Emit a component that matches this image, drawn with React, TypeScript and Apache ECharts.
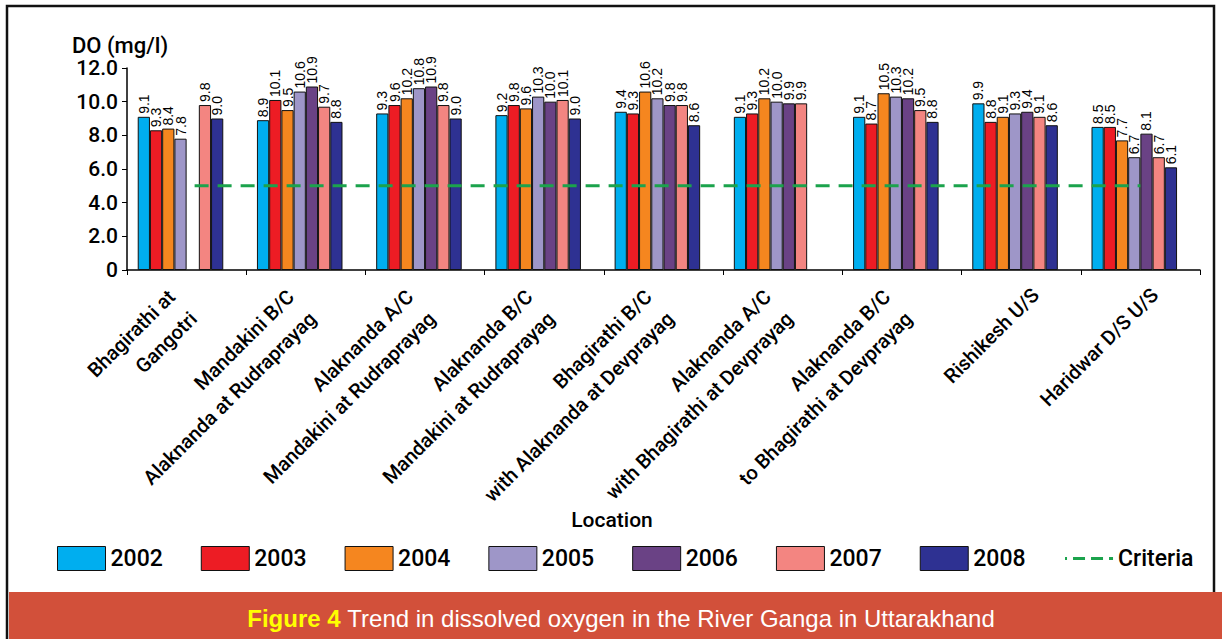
import React, { useEffect, useRef } from "react";
import * as echarts from "echarts";

const categories = [
  "Bhagirathi at\nGangotri",
  "Mandakini B/C\nAlaknanda at Rudraprayag",
  "Alaknanda A/C\nMandakini at Rudraprayag",
  "Alaknanda B/C\nMandakini at Rudraprayag",
  "Bhagirathi B/C\nwith Alaknanda at Devprayag",
  "Alaknanda A/C\nwith Bhagirathi at Devprayag",
  "Alaknanda B/C\nto Bhagirathi at Devprayag",
  "Rishikesh U/S",
  "Haridwar D/S U/S",
];

const years = ["2002", "2003", "2004", "2005", "2006", "2007", "2008"];

const v2002 = [9.1, 8.9, 9.3, 9.2, 9.4, 9.1, 9.1, 9.9, 8.5];
const v2003 = [8.3, 10.1, 9.8, 9.8, 9.3, 9.3, 8.7, 8.8, 8.5];
const v2004 = [8.4, 9.5, 10.2, 9.6, 10.6, 10.2, 10.5, 9.1, 7.7];
const v2005 = [7.8, 10.6, 10.8, 10.3, 10.2, 10.0, 10.3, 9.3, 6.7];
const v2006 = [null, 10.9, 10.9, 10.0, 9.8, 9.9, 10.2, 9.4, 8.1];
const v2007 = [9.8, 9.7, 9.8, 10.1, 9.8, 9.9, 9.5, 9.1, 6.7];
const v2008 = [9.0, 8.8, 9.0, 9.0, 8.6, null, 8.8, 8.6, 6.1];
const criteria = [5, 5, 5, 5, 5, 5, 5, 5, 5];

// printed labels that differ from the drawn bar heights in the original
const printedLabels2003 = ["9.3", null, "9.6", null, null, null, null, null, null];

const yTicks = [0, 2, 4, 6, 8, 10, 12];

const colors = ["#00aeef", "#ed1c24", "#f5861f", "#9e96c8", "#6a4285", "#f38581", "#2e3192"];
const criteriaColor = "#1ba34c";

const seriesValues = [v2002, v2003, v2004, v2005, v2006, v2007, v2008];

const catFont = {
  fontFamily: "Roboto, sans-serif",
  fontWeight: 500,
  fontSize: 20,
  lineHeight: 31,
  color: "#000",
};

export default function App() {
  const ref = useRef<HTMLDivElement>(null);
  useEffect(() => {
    if (!ref.current) return;
    const chart = echarts.init(ref.current, null, { renderer: "svg" });
    const barSeries: any[] = seriesValues.map((vals, si) => ({
      name: years[si],
      type: "bar",
      barGap: "0%",
      barCategoryGap: "18%",
      itemStyle: { color: colors[si], borderColor: "#111", borderWidth: 1 },
      label: {
        show: true,
        position: "top",
        rotate: 90,
        align: "left",
        verticalAlign: "middle",
        distance: 3,
        fontFamily: "Liberation Sans, Arial, sans-serif",
        fontSize: 14,
        color: "#000",
        formatter: (p: any) => (p.value == null ? "" : Number(p.value).toFixed(1)),
      },
      data: vals.map((v, i) => {
        if (si === 1 && printedLabels2003[i]) {
          const t = printedLabels2003[i];
          return { value: v, label: { formatter: () => t } };
        }
        return v;
      }),
      z: 2,
    }));
    // empty slot kept by the original layout (8th column per group)
    barSeries.push({
      name: "_slot",
      type: "bar",
      barGap: "0%",
      barCategoryGap: "18%",
      data: categories.map(() => null),
      silent: true,
    });
    const option: any = {
      animation: false,
      backgroundColor: "#ffffff",
      grid: { left: 127, right: 22, top: 68, bottom: 639 - 270 },
      legend: {
        data: [
          ...years.map((y) => ({ name: y, icon: "rect" })),
          {
            name: "Criteria",
            itemStyle: { opacity: 0 },
            lineStyle: { type: [12, 6], width: 3, color: criteriaColor },
          },
        ],
        left: 52,
        top: 541,
        itemWidth: 48,
        itemHeight: 24,
        itemGap: 38,
        itemStyle: { borderColor: "#111", borderWidth: 1 },
        textStyle: {
          fontFamily: "Roboto, sans-serif",
          fontWeight: 500,
          fontSize: 23,
          color: "#000",
        },
      },
      xAxis: {
        type: "category",
        data: categories,
        axisLine: { lineStyle: { color: "#000", width: 1.5 } },
        axisTick: { show: true, length: 5, lineStyle: { color: "#000" } },
        axisLabel: {
          interval: 0,
          rotate: 45,
          margin: 30,
          ...catFont,
          formatter: (v: string) =>
            v.indexOf("\n") < 0
              ? "{s|" + v + "}"
              : v
                  .split("\n")
                  .map((line) => "{m|" + line + "}")
                  .join("\n"),
          rich: {
            s: { ...catFont, padding: [8, -16, 0, 0] },
            m: { ...catFont, padding: [0, 6, 0, 0] },
          },
        },
      },
      yAxis: {
        type: "value",
        min: 0,
        max: 12,
        interval: 2,
        splitLine: { show: false },
        axisLine: { show: true, lineStyle: { color: "#000", width: 1.5 } },
        axisTick: { show: true, length: 5, lineStyle: { color: "#000" } },
        axisLabel: {
          margin: 9,
          fontFamily: "Roboto, sans-serif",
          fontWeight: 500,
          fontSize: 21,
          color: "#000",
          formatter: (v: number) => (yTicks.includes(v) && v !== 0 ? v.toFixed(1) : String(v)),
        },
      },
      series: [
        ...barSeries,
        {
          name: "Criteria",
          type: "line",
          data: criteria,
          symbol: "none",
          lineStyle: { color: criteriaColor, width: 3, type: [14, 9], dashOffset: -8 },
          itemStyle: { color: criteriaColor },
          z: 5,
        },
      ],
      graphic: [
        {
          type: "rect",
          shape: { x: 7, y: 6, width: 1207, height: 640 },
          style: { fill: "none", stroke: "#111", lineWidth: 2.5 },
          silent: true,
        },
        {
          type: "rect",
          shape: { x: 9, y: 592, width: 1213, height: 47 },
          style: { fill: "#d2503a" },
          silent: true,
        },
        {
          type: "text",
          x: 72,
          y: 45,
          style: {
            text: "DO (mg/l)",
            fontFamily: "Roboto, sans-serif",
            fontWeight: 500,
            fontSize: 22,
            fill: "#000",
            verticalAlign: "middle",
          },
        },
        {
          type: "text",
          x: 612,
          y: 520,
          style: {
            text: "Location",
            fontFamily: "Roboto, sans-serif",
            fontWeight: 500,
            fontSize: 21,
            fill: "#000",
            align: "center",
            verticalAlign: "middle",
          },
        },
        {
          type: "text",
          x: 621,
          y: 618,
          style: {
            text: "{a|Figure 4}  {b|Trend in dissolved oxygen in the River Ganga in Uttarakhand}",
            align: "center",
            verticalAlign: "middle",
            rich: {
              a: {
                fontFamily: "Liberation Sans, Arial, sans-serif",
                fontWeight: "bold",
                fontSize: 24,
                fill: "#ffff00",
                color: "#ffff00",
              },
              b: {
                fontFamily: "Liberation Sans, Arial, sans-serif",
                fontSize: 24,
                fill: "#ffffff",
                color: "#ffffff",
              },
            },
          },
        },
      ],
    };
    chart.setOption(option);
    return () => chart.dispose();
  }, []);
  return (
    <div
      ref={ref}
      style={{ position: "fixed", left: 0, top: 0, width: 1222, height: 639 }}
    />
  );
}
